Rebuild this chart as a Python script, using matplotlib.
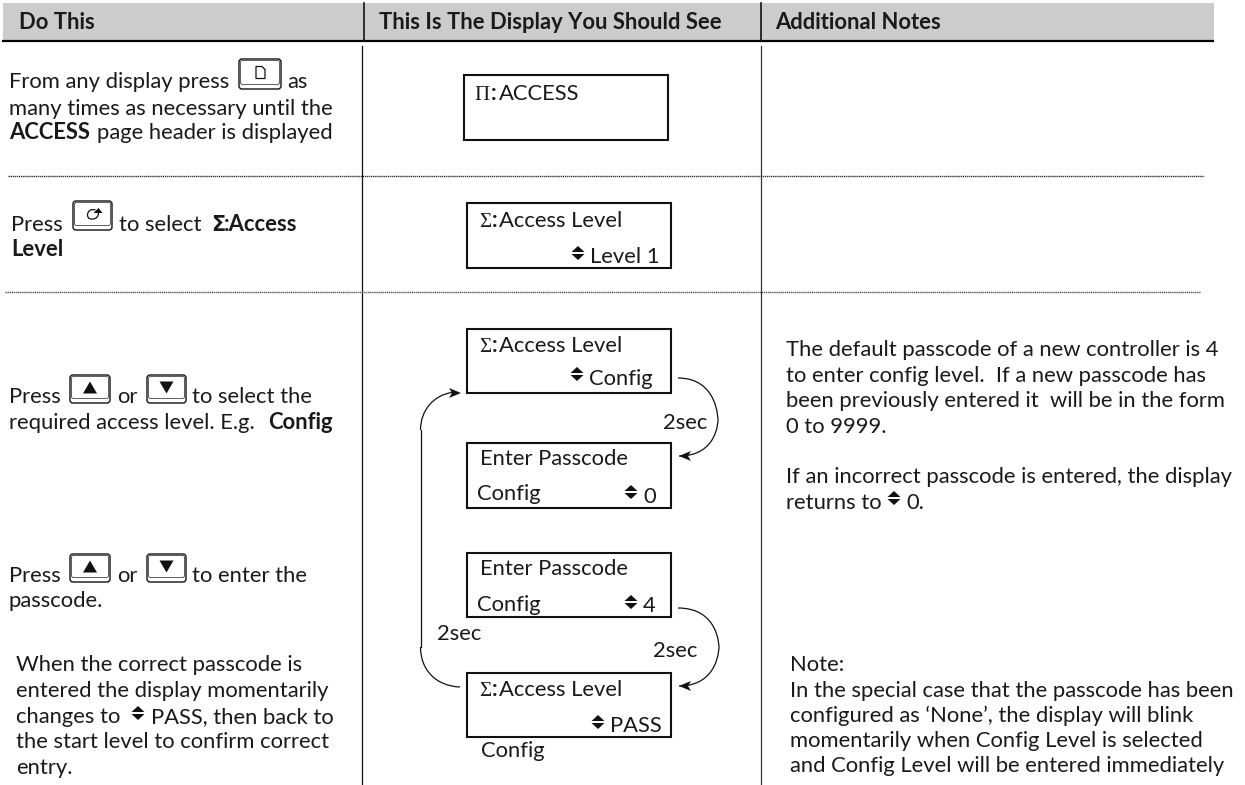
import matplotlib
matplotlib.use('Agg')
import matplotlib.pyplot as plt
from matplotlib.patches import FancyBboxPatch, Rectangle, Polygon, PathPatch
from matplotlib.path import Path

plt.rcParams['font.family'] = ['Lato', 'DejaVu Sans']

headers = ['Do This', 'This Is The Display You Should See', 'Additional Notes']
step1 = ['From any display press', 'as', 'many times as necessary until the', 'ACCESS', 'page header is displayed']
step2 = ['Press', 'to select', 'Σ', ':Access', 'Level']
step3 = ['Press', 'or', 'to select the', 'required access level. E.g.', 'Config']
step4 = ['Press', 'or', 'to enter the', 'passcode.']
step5 = ['When the correct passcode is', 'entered the display momentarily', 'changes to', 'PASS, then back to',
         'the start level to confirm correct', 'entry.']
notes1 = ['The default passcode of a new controller is 4', 'to enter config level.  If a new passcode has',
          'been previously entered it  will be in the form', '0 to 9999.',
          'If an incorrect passcode is entered, the display', 'returns to', '0.']
notes2 = ['Note:', 'In the special case that the passcode has been', 'configured as ‘None’, the display will blink',
          'momentarily when Config Level is selected', 'and Config Level will be entered immediately']

FS = 15.8
INK = '#1a1a1a'

fig = plt.figure(figsize=(12.45, 7.85), dpi=100)
ax = fig.add_axes([0, 0, 1, 1])
ax.set_xlim(0, 1245)
ax.set_ylim(785, 0)
ax.axis('off')


def t(x, y, s, bold=False, size=FS, family=None):
    kw = {'family': family} if family else {}
    return ax.text(x, y, s, fontsize=size, ha='left', va='baseline', color=INK,
                   fontweight='bold' if bold else 'normal', **kw)


def updown(x, y):
    # small up/down glyph, y is the middle
    ax.add_patch(Polygon([(x - 6.5, y - 1), (x + 6.5, y - 1), (x, y - 7)], color='#111111', lw=0))
    ax.add_patch(Polygon([(x - 6.5, y + 1), (x + 6.5, y + 1), (x, y + 7)], color='#111111', lw=0))


def key(x0, y0, x1, y1, kind):
    ax.add_patch(FancyBboxPatch((x0, y0), x1 - x0, y1 - y0, boxstyle='round,pad=0,rounding_size=3',
                                fc='white', ec='#111111', lw=1.0))
    ax.add_patch(FancyBboxPatch((x0 + 1.5, y0 + 1.5), x1 - x0 - 3, y1 - y0 - 6, boxstyle='round,pad=0,rounding_size=2',
                                fc='white', ec='#444444', lw=0.6))
    cx, cy = (x0 + x1) / 2, (y0 + y1) / 2 - 1.5
    if kind == 'up':
        ax.add_patch(Polygon([(cx - 7, cy + 6), (cx + 7, cy + 6), (cx, cy - 6)], color='#111111', lw=0))
    elif kind == 'down':
        ax.add_patch(Polygon([(cx - 7, cy - 6), (cx + 7, cy - 6), (cx, cy + 6)], color='#111111', lw=0))
    elif kind == 'page':
        ax.add_patch(Polygon([(cx - 4, cy - 6), (cx + 2, cy - 6), (cx + 5, cy - 3), (cx + 5, cy + 6), (cx - 4, cy + 6)],
                             fc='white', ec='#111111', lw=0.9))
    elif kind == 'scroll':
        p = Path([(cx + 3, cy - 4), (cx - 6, cy - 7), (cx - 8, cy + 6), (cx, cy + 5), (cx + 4, cy + 5), (cx + 6, cy + 2), (cx + 6, cy - 1)],
                 [Path.MOVETO, Path.CURVE4, Path.CURVE4, Path.CURVE4, Path.CURVE4, Path.CURVE4, Path.CURVE4])
        ax.add_patch(PathPatch(p, fc='none', ec='#111111', lw=0.9))
        ax.add_patch(Polygon([(cx + 1, cy - 1), (cx + 10, cy - 1), (cx + 6, cy - 6)], color='#111111', lw=0))


def lcd(x0, y0, x1, y1):
    ax.add_patch(Rectangle((x0, y0), x1 - x0, y1 - y0, fc='white', ec='#111111', lw=1.5))


def greek_label(x, y, letter, rest, colon_x, rest_x):
    # serif capital, bold colon, then the plain text
    t(x, y, letter, size=15, family='Liberation Serif')
    t(colon_x, y, ':', bold=True)
    t(rest_x, y, rest)


def curve(x0, y0, xm, ym, x1, y1):
    # two smooth quarter arcs through the turning point
    p = Path([(x0, y0), (xm, y0), (xm, ym), (xm, ym), (xm, ym), (xm, y1), (x1, y1)],
             [Path.MOVETO, Path.CURVE4, Path.CURVE4, Path.CURVE4, Path.CURVE4, Path.CURVE4, Path.CURVE4])
    ax.add_patch(PathPatch(p, fc='none', ec='#111111', lw=0.9))


def arrow_head(x, y, d):
    # d = +1 head points right, -1 head points left
    ax.add_patch(Polygon([(x, y), (x - 12 * d, y - 5), (x - 9 * d, y), (x - 12 * d, y + 5)], color='#111111', lw=0))


# header band
ax.add_patch(Rectangle((3, 3), 1211, 37, fc='#cccccc', ec='none'))
ax.plot([2, 1214], [41, 41], color='#000000', lw=1.6, solid_capstyle='butt')
ax.plot([363.5, 363.5], [3, 41], color='#111111', lw=1.2)
ax.plot([760.5, 760.5], [3, 41], color='#111111', lw=1.2)
t(19, 29, headers[0], bold=True)
t(379, 29, headers[1], bold=True)
t(775, 29, headers[2], bold=True)

# column rules
ax.plot([362, 362], [46, 785], color='#111111', lw=0.9)
ax.plot([760.5, 760.5], [46, 785], color='#333333', lw=0.9)

# row rules
ax.plot([8, 1204], [176, 176], color='#333333', lw=1.0, ls=(0, (1, 0.5)))
ax.plot([5, 1200], [292, 292], color='#555555', lw=1.0, ls=(0, (1, 0.5)))

# column 1
t(9, 88, step1[0])
key(239, 59, 281, 89, 'page')
t(287, 88, step1[1])
t(9, 115, step1[2])
t(9, 139, step1[3], bold=True)
t(97, 139, step1[4])

t(11, 231, step2[0])
key(73, 201, 112, 230, 'scroll')
t(119, 231, step2[1])
t(211, 231, step2[2], bold=True, size=15, family='DejaVu Sans')
t(224, 231, step2[3], bold=True)
t(11, 256, step2[4], bold=True)

t(9, 403, step3[0])
key(70, 375, 110, 403, 'up')
t(117, 403, step3[1])
key(147, 375, 186, 403, 'down')
t(192, 403, step3[2])
t(9, 429, step3[3])
t(268, 429, step3[4], bold=True)

t(9, 582, step4[0])
key(70, 554, 110, 582, 'up')
t(117, 582, step4[1])
key(147, 554, 186, 582, 'down')
t(192, 582, step4[2])
t(9, 607, step4[3])

t(16, 671, step5[0])
t(16, 697, step5[1])
t(16, 723, step5[2])
updown(138, 713)
t(151, 723, step5[3])
t(16, 748, step5[4])
t(16, 774, step5[5])

# displays
lcd(464, 75, 668, 140)
greek_label(474, 100, 'Π', 'ACCESS', 491, 499)

lcd(467, 203, 671, 268)
greek_label(479, 227, 'Σ', 'Access Level', 492, 499)
updown(578, 253)
t(590, 263, 'Level 1')

lcd(467, 329, 671, 393)
greek_label(479, 352, 'Σ', 'Access Level', 492, 499)
updown(577, 374)
t(589, 385, 'Config')

lcd(467, 443, 671, 508)
t(480, 465, 'Enter Passcode')
t(477, 500, 'Config')
updown(631, 492)
t(643, 503, '0')

lcd(467, 553, 671, 617)
t(480, 575, 'Enter Passcode')
t(477, 611, 'Config')
updown(631, 602)
t(643, 612, '4')

lcd(467, 673, 671, 737)
greek_label(479, 696, 'Σ', 'Access Level', 492, 499)
updown(598, 722)
t(610, 732, 'PASS')
t(481, 757, 'Config')

# arrows
curve(678, 378, 718, 420, 679, 456)
arrow_head(679, 456, -1)
curve(678, 608, 719, 647, 679, 686)
arrow_head(679, 686, -1)
ax.plot([420.5, 420.5], [430, 647], color='#111111', lw=0.9)
p = Path([(420.5, 647), (420.5, 670), (436, 686), (460, 687)], [Path.MOVETO, Path.CURVE4, Path.CURVE4, Path.CURVE4])
ax.add_patch(PathPatch(p, fc='none', ec='#111111', lw=0.9))
p = Path([(420.5, 430), (420.5, 410), (434, 395), (452, 392.5)], [Path.MOVETO, Path.CURVE4, Path.CURVE4, Path.CURVE4])
ax.add_patch(PathPatch(p, fc='none', ec='#111111', lw=0.9))
arrow_head(461, 393, 1)
t(663, 429, '2sec')
t(437, 640, '2sec')
t(653, 657, '2sec')

# notes
t(786, 356, notes1[0])
t(786, 382, notes1[1])
t(786, 407, notes1[2])
t(786, 433, notes1[3])
t(786, 483, notes1[4])
t(786, 509, notes1[5])
updown(894, 498)
t(906, 509, notes1[6])

t(790, 671, notes2[0])
t(790, 697, notes2[1])
t(790, 722, notes2[2])
t(790, 747, notes2[3])
t(790, 772, notes2[4])

fig.savefig('out.png', dpi=100)
